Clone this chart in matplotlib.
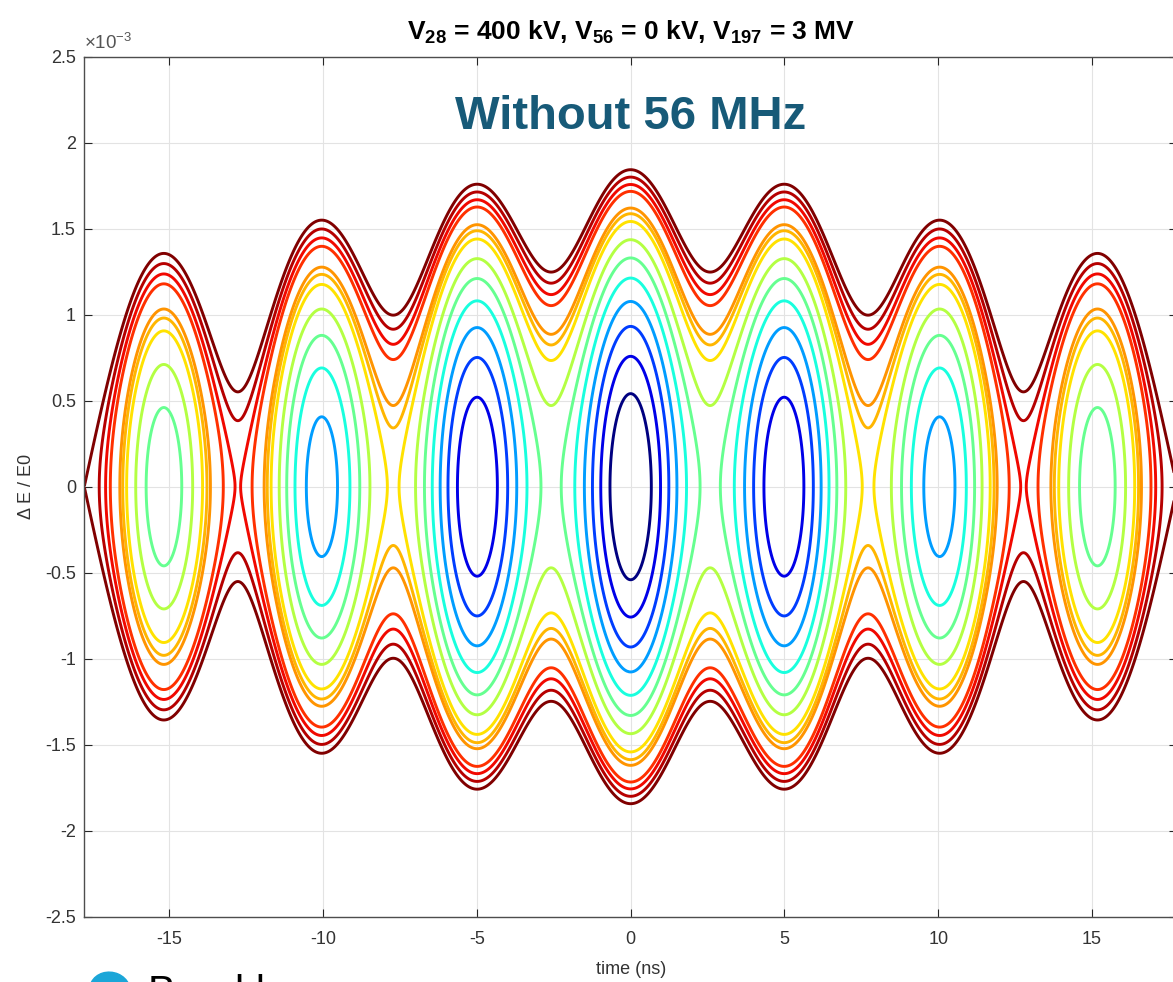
import numpy as np
import matplotlib.pyplot as plt
from matplotlib.patches import Ellipse

plt.rcParams['font.family'] = ['Liberation Sans', 'DejaVu Sans']
plt.rcParams['mathtext.fontset'] = 'custom'
plt.rcParams['mathtext.rm'] = 'Liberation Sans'
plt.rcParams['mathtext.bf'] = 'Liberation Sans:bold'
plt.rcParams['axes.unicode_minus'] = False

# RF settings (from the title)
V28 = 400.0      # kV
V56 = 0.0        # kV
V197 = 3000.0    # kV
f28 = 28.15      # MHz
f197 = 7 * f28   # MHz

# contour heights at t = 0 (dE/E0, units of 1e-3)
dE_levels_t0 = [0.541, 0.758, 0.932, 1.077, 1.213, 1.330, 1.436,
                1.542, 1.587, 1.620, 1.717, 1.757, 1.800, 1.843]
dE_separatrix_t0 = 1.843

xticks = [-15, -10, -5, 0, 5, 10, 15]
yticks = [-2.5, -2, -1.5, -1, -0.5, 0, 0.5, 1, 1.5, 2, 2.5]
ytick_labels = ['-2.5', '-2', '-1.5', '-1', '-0.5', '0', '0.5', '1', '1.5', '2', '2.5']


def potential(t):
    w = 2 * np.pi * f28 * 1e-3   # rad/ns
    a28 = V28 / f28
    return -(np.cos(w * t)
             + (V56 / (2 * f28)) / a28 * np.cos(2 * w * t)
             + (V197 / f197) / a28 * np.cos(7 * w * t))


half_period = 1000.0 / (2 * f28)   # ns
u0 = potential(0.0)
umax = potential(half_period)
c = dE_separatrix_t0 / np.sqrt(umax - u0)

t = np.linspace(-18.6, 18.6, 1800)
dE = np.linspace(-2.7, 2.7, 1000)
T, D = np.meshgrid(t, dE)
H = (D / c) ** 2 + potential(T)
levels = sorted((np.array(dE_levels_t0) / c) ** 2 + u0)

fig = plt.figure(figsize=(11.73, 9.82), dpi=100)
ax = fig.add_axes([84.3 / 1173, 65.3 / 982, (1177 - 84.3) / 1173, 860 / 982])

ax.contour(T, D, H, levels=levels, cmap='jet', linewidths=2.1)

ax.set_xlim(-half_period, half_period)
ax.set_ylim(-2.5, 2.5)
ax.set_xticks(xticks)
ax.set_xticklabels([str(v) for v in xticks])
ax.set_yticks(yticks)
ax.set_yticklabels(ytick_labels)
ax.grid(True, color='#e3e3e3', lw=0.8)
ax.set_axisbelow(True)
ax.tick_params(direction='in', length=6, width=0.8, top=True, right=True,
               labelsize=13, colors='#262626', labelcolor='#333333')
ax.tick_params(axis='y', pad=6)
ax.tick_params(axis='x', pad=10)
for s in ax.spines.values():
    s.set_color('#4d4d4d')
    s.set_linewidth(1.0)

ax.set_xlabel('time (ns)', fontsize=13, color='#333333', labelpad=10)
ax.set_ylabel('Δ E / E0', fontsize=13, color='#333333')
ax.yaxis.set_label_coords(-0.045, 0.5)
ax.set_title(r'$\mathbf{V_{28}}$ = 400 kV, $\mathbf{V_{56}}$ = 0 kV, $\mathbf{V_{197}}$ = 3 MV',
             fontsize=19, fontweight='bold', pad=12)
ax.text(0.0, 1.004, r'$\times$10$^{-3}$', transform=ax.transAxes, fontsize=13.5,
        color='#555555', ha='left', va='bottom')

ax.text(0.0, 2.15, 'Without 56 MHz', fontsize=34, fontweight='bold',
        color='#175a78', ha='center', va='center')

# logo fragment at the bottom edge
fig.patches.append(Ellipse((110 / 1173, -8 / 982), 40 / 1173, 36 / 982, angle=20,
                           color='#1ba6d8', transform=fig.transFigure))
fig.text(148 / 1173, 974 / 982 * 0 + 1 - 974 / 982, 'Brookhaven', fontsize=30,
         color='black', ha='left', va='top')

fig.savefig('out.png', dpi=100)
